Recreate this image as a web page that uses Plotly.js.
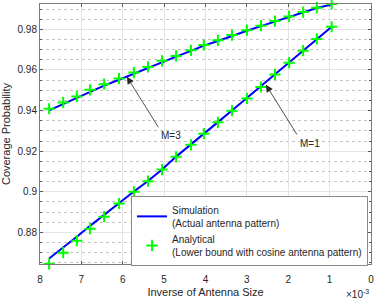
<!DOCTYPE html>
<html>
<head>
<meta charset="utf-8">
<script src="https://cdn.plot.ly/plotly-3.0.1.min.js"></script>
<style>
html,body{margin:0;padding:0;background:#fff;}
#chart{width:374px;height:300px;}
</style>
</head>
<body>
<div id="chart"></div>
<script>
// Inverse of antenna size (in units of 1e-3)
const inverseSize = [7.78, 7.44, 7.11, 6.79, 6.45, 6.09, 5.73, 5.39, 5.05, 4.71, 4.35,
                     4.04, 3.70, 3.36, 3.00, 2.66, 2.32, 1.98, 1.64, 1.31, 0.95];

// M=3
const simM3 = [0.9401, 0.9432, 0.9461, 0.9494, 0.9523, 0.9552, 0.9582, 0.9611, 0.9641, 0.9666, 0.9694,
               0.9720, 0.9743, 0.9769, 0.9793, 0.9816, 0.9839, 0.9862, 0.9883, 0.9905, 0.9923];
const anaM3 = [0.9409, 0.9440, 0.9469, 0.9502, 0.9530, 0.9558, 0.9587, 0.9615, 0.9645, 0.9669, 0.9697,
               0.9723, 0.9746, 0.9772, 0.9796, 0.9818, 0.9841, 0.9864, 0.9885, 0.9907, 0.9925];

// M=1
const simM1 = [0.8671, 0.8724, 0.8778, 0.8832, 0.8886, 0.8947, 0.9001, 0.9053, 0.9110, 0.9173, 0.9232,
               0.9287, 0.9343, 0.9400, 0.9461, 0.9517, 0.9579, 0.9637, 0.9696, 0.9754, 0.9813];
const anaM1 = [0.8644, 0.8700, 0.8759, 0.8818, 0.8877, 0.8942, 0.9000, 0.9052, 0.9109, 0.9172, 0.9231,
               0.9286, 0.9342, 0.9399, 0.9460, 0.9516, 0.9578, 0.9636, 0.9695, 0.9753, 0.9813];

const xTicks = [0, 1, 2, 3, 4, 5, 6, 7, 8];
const yTicks = [0.88, 0.90, 0.92, 0.94, 0.96, 0.98];
const yTickLabels = ['0.88', '0.9', '0.92', '0.94', '0.96', '0.98'];

const simName = 'Simulation<br>(Actual antenna pattern)';
const anaName = 'Analytical<br>(Lower bound with cosine antenna pattern)';

const FONT = 'Liberation Sans, Arial, Helvetica, sans-serif';
const TXT = '#262626';

const lineStyle = {color: '#0000ff', width: 2};
const markerStyle = {symbol: 'cross-thin', size: 8, color: '#00ff00', line: {color: '#00ff00', width: 2}};

const traces = [
  {x: inverseSize, y: simM3, mode: 'lines', line: lineStyle, name: simName, legendgroup: 'sim', showlegend: true, hoverinfo: 'skip'},
  {x: inverseSize, y: simM1, mode: 'lines', line: lineStyle, name: simName, legendgroup: 'sim', showlegend: false, hoverinfo: 'skip'},
  {x: inverseSize, y: anaM3, mode: 'markers', marker: markerStyle, name: anaName, legendgroup: 'ana', showlegend: true, cliponaxis: false, hoverinfo: 'skip'},
  {x: inverseSize, y: anaM1, mode: 'markers', marker: markerStyle, name: anaName, legendgroup: 'ana', showlegend: false, cliponaxis: false, hoverinfo: 'skip'}
];

const axisCommon = {
  showline: true, linecolor: '#7a7a7a', linewidth: 1, mirror: 'ticks',
  ticks: 'inside', ticklen: 3, tickwidth: 1, tickcolor: '#5a5a5a',
  showgrid: true, gridcolor: '#e4e4e4', gridwidth: 1,
  zeroline: false, automargin: false,
  tickfont: {family: FONT, size: 10, color: TXT}
};

const layout = {
  width: 374, height: 300,
  margin: {l: 40, r: 3, t: 4, b: 36},
  paper_bgcolor: '#ffffff', plot_bgcolor: '#ffffff',
  font: {family: FONT, size: 10, color: TXT},
  showlegend: true,
  xaxis: Object.assign({}, axisCommon, {
    range: [8, 0], tickmode: 'array', tickvals: xTicks, ticktext: xTicks.map(String),
    ticklabelstandoff: 6, ticklabeloverflow: 'allow',
    title: {text: 'Inverse of Antenna Size', font: {family: FONT, size: 11, color: TXT}, standoff: 4}
  }),
  yaxis: Object.assign({}, axisCommon, {
    range: [0.8644, 0.9925], tickmode: 'array', tickvals: yTicks, ticktext: yTickLabels,
    title: {text: 'Coverage Probability', font: {family: FONT, size: 11, color: TXT}, standoff: 6},
    minor: {dtick: 0.005, showgrid: true, griddash: 'dot', gridcolor: '#c4c4c4', gridwidth: 1,
            ticks: 'inside', ticklen: 2, tickcolor: '#5a5a5a'}
  }),
  legend: {
    x: 0.275, y: 0.262, xanchor: 'left', yanchor: 'top',
    bgcolor: '#ffffff', bordercolor: '#8a8a8a', borderwidth: 1,
    font: {family: FONT, size: 10, color: TXT},
    itemwidth: 30, tracegroupgap: 0, traceorder: 'normal'
  },
  annotations: [
    {x: 5.90, y: 0.9566, ax: 5.14, ay: 0.9318, axref: 'x', ayref: 'y', xref: 'x', yref: 'y',
     xanchor: 'left', yanchor: 'top', borderpad: 2,
     text: 'M=3', showarrow: true, arrowhead: 2, arrowsize: 1.8, arrowwidth: 0.8, arrowcolor: '#262626',
     font: {family: FONT, size: 10, color: TXT}},
    {x: 2.54, y: 0.9527, ax: 1.79, ay: 0.9282, axref: 'x', ayref: 'y', xref: 'x', yref: 'y',
     xanchor: 'left', yanchor: 'top', borderpad: 2,
     text: 'M=1', showarrow: true, arrowhead: 2, arrowsize: 1.8, arrowwidth: 0.8, arrowcolor: '#262626',
     font: {family: FONT, size: 10, color: TXT}},
    {x: 1, y: -0.115, xref: 'paper', yref: 'paper', xanchor: 'right', yanchor: 'middle',
     text: '×10<sup>-3</sup>', showarrow: false, font: {family: FONT, size: 10, color: TXT}}
  ]
};

Plotly.newPlot('chart', traces, layout, {staticPlot: true, displayModeBar: false});
</script>
</body>
</html>
